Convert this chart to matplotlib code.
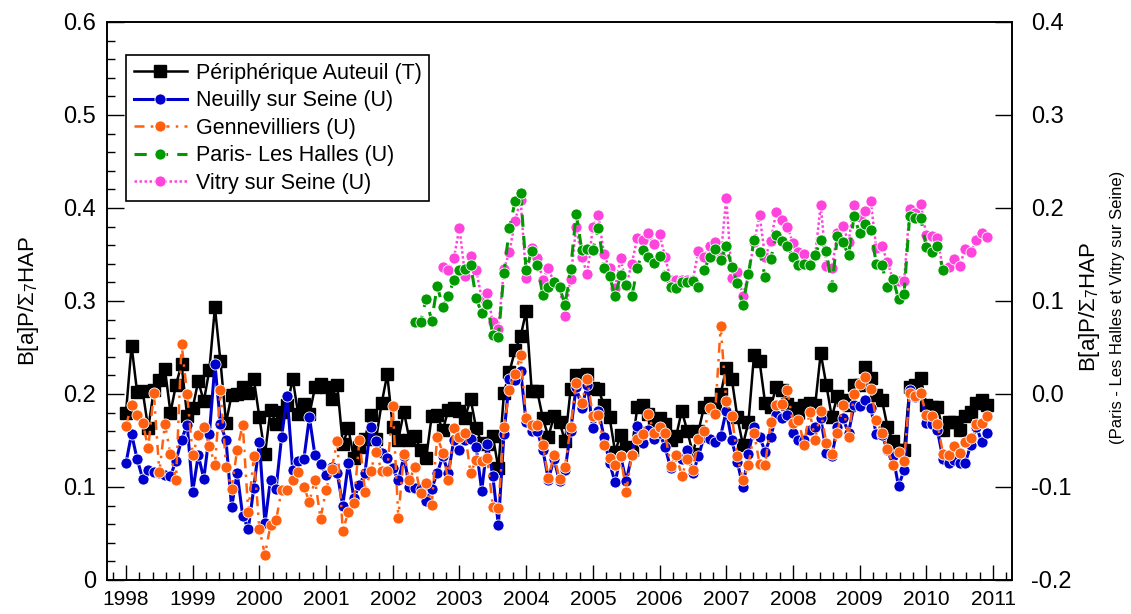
import numpy as np
import pandas as pd
import matplotlib
matplotlib.use("Agg")
import matplotlib.pyplot as plt
from matplotlib.ticker import MultipleLocator

plt.rcParams['font.family'] = ['Liberation Sans', 'DejaVu Sans']
plt.rcParams['mathtext.fontset'] = 'custom'
plt.rcParams['mathtext.rm'] = 'Liberation Sans'
plt.rcParams['mathtext.it'] = 'Liberation Sans:italic'

# monthly series, Jan 1998 -> Dec 2010
months = pd.date_range('1998-01-01', '2010-12-01', freq='MS')
# Paris-Les Halles from May 2002 to Apr 2010, Vitry from Oct 2002 to Dec 2010
months_halles = pd.date_range('2002-05-01', '2010-04-01', freq='MS')
months_vitry = pd.date_range('2002-10-01', '2010-12-01', freq='MS')

peripherique = [
    0.180, 0.252, 0.202, 0.203, 0.163, 0.204, 0.215, 0.227, 0.180, 0.210, 0.232, 0.176,
    0.185, 0.214, 0.192, 0.226, 0.293, 0.235, 0.169, 0.199, 0.200, 0.207, 0.201, 0.216,
    0.175, 0.135, 0.183, 0.168, 0.181, 0.188, 0.216, 0.178, 0.189, 0.178, 0.207, 0.211,
    0.208, 0.195, 0.210, 0.146, 0.163, 0.131, 0.143, 0.152, 0.177, 0.152, 0.190, 0.221,
    0.165, 0.151, 0.181, 0.151, 0.155, 0.140, 0.131, 0.176, 0.177, 0.161, 0.183, 0.185,
    0.182, 0.174, 0.195, 0.163, 0.147, 0.146, 0.155, 0.120, 0.201, 0.224, 0.247, 0.262,
    0.289, 0.203, 0.203, 0.174, 0.154, 0.176, 0.170, 0.149, 0.205, 0.220, 0.219, 0.222,
    0.206, 0.205, 0.188, 0.175, 0.138, 0.156, 0.143, 0.140, 0.186, 0.188, 0.178, 0.168,
    0.174, 0.168, 0.151, 0.155, 0.182, 0.160, 0.136, 0.160, 0.186, 0.190, 0.186, 0.200,
    0.228, 0.216, 0.175, 0.145, 0.170, 0.242, 0.235, 0.190, 0.186, 0.208, 0.204, 0.189,
    0.185, 0.180, 0.188, 0.190, 0.188, 0.244, 0.210, 0.175, 0.198, 0.194, 0.188, 0.210,
    0.210, 0.229, 0.217, 0.199, 0.194, 0.165, 0.149, 0.140, 0.140, 0.208, 0.210, 0.217,
    0.188, 0.186, 0.186, 0.161, 0.170, 0.170, 0.161, 0.176, 0.181, 0.190, 0.194, 0.188,
]

neuilly = [
    0.126, 0.157, 0.130, 0.109, 0.118, 0.116, 0.115, 0.113, 0.112, 0.128, 0.151, 0.167,
    0.095, 0.134, 0.109, 0.157, 0.232, 0.168, 0.150, 0.078, 0.115, 0.069, 0.055, 0.099,
    0.148, 0.061, 0.108, 0.098, 0.154, 0.198, 0.118, 0.128, 0.130, 0.175, 0.134, 0.125,
    0.113, 0.122, 0.115, 0.080, 0.126, 0.088, 0.102, 0.115, 0.165, 0.149, 0.137, 0.131,
    0.120, 0.107, 0.133, 0.100, 0.099, 0.098, 0.085, 0.098, 0.115, 0.133, 0.115, 0.151,
    0.140, 0.151, 0.152, 0.143, 0.096, 0.146, 0.112, 0.059, 0.157, 0.216, 0.215, 0.225,
    0.170, 0.160, 0.160, 0.140, 0.108, 0.130, 0.106, 0.118, 0.160, 0.208, 0.185, 0.210,
    0.163, 0.182, 0.154, 0.126, 0.105, 0.133, 0.106, 0.134, 0.166, 0.147, 0.161, 0.152,
    0.158, 0.143, 0.120, 0.133, 0.130, 0.140, 0.115, 0.133, 0.154, 0.152, 0.148, 0.155,
    0.182, 0.150, 0.127, 0.100, 0.136, 0.165, 0.154, 0.138, 0.154, 0.177, 0.174, 0.177,
    0.158, 0.151, 0.150, 0.161, 0.165, 0.174, 0.137, 0.133, 0.165, 0.174, 0.158, 0.188,
    0.187, 0.194, 0.185, 0.157, 0.156, 0.140, 0.133, 0.101, 0.118, 0.204, 0.197, 0.201,
    0.169, 0.168, 0.161, 0.130, 0.126, 0.129, 0.126, 0.126, 0.145, 0.165, 0.148, 0.158,
]

gennevilliers = [
    0.166, 0.188, 0.177, 0.169, 0.142, 0.201, 0.116, 0.168, 0.135, 0.107, 0.254, 0.200,
    0.134, 0.156, 0.164, 0.144, 0.124, 0.204, 0.122, 0.098, 0.140, 0.167, 0.073, 0.133,
    0.055, 0.027, 0.059, 0.064, 0.097, 0.097, 0.108, 0.116, 0.100, 0.084, 0.108, 0.066,
    0.097, 0.119, 0.149, 0.053, 0.073, 0.083, 0.151, 0.095, 0.117, 0.138, 0.117, 0.117,
    0.187, 0.067, 0.136, 0.107, 0.122, 0.093, 0.104, 0.081, 0.154, 0.137, 0.107, 0.163,
    0.154, 0.158, 0.115, 0.129, 0.128, 0.131, 0.079, 0.077, 0.165, 0.204, 0.222, 0.242,
    0.174, 0.167, 0.167, 0.145, 0.110, 0.134, 0.109, 0.121, 0.165, 0.212, 0.190, 0.216,
    0.176, 0.177, 0.145, 0.131, 0.124, 0.133, 0.095, 0.134, 0.152, 0.157, 0.179, 0.158,
    0.165, 0.158, 0.123, 0.134, 0.112, 0.130, 0.118, 0.152, 0.160, 0.185, 0.179, 0.273,
    0.192, 0.176, 0.133, 0.107, 0.124, 0.158, 0.125, 0.124, 0.170, 0.188, 0.189, 0.204,
    0.169, 0.172, 0.145, 0.181, 0.151, 0.182, 0.147, 0.135, 0.158, 0.188, 0.154, 0.200,
    0.211, 0.218, 0.205, 0.172, 0.158, 0.141, 0.124, 0.138, 0.128, 0.201, 0.198, 0.201,
    0.177, 0.176, 0.168, 0.136, 0.134, 0.144, 0.137, 0.148, 0.153, 0.168, 0.169, 0.176,
]

# right axis values
halles = [
    0.077, 0.077, 0.102, 0.079, 0.116, 0.094, 0.105, 0.123,
    0.133, 0.134, 0.139, 0.103, 0.087, 0.097, 0.063, 0.061, 0.130, 0.179, 0.207, 0.216,
    0.133, 0.154, 0.139, 0.106, 0.115, 0.120, 0.115, 0.096, 0.134, 0.194, 0.155, 0.156,
    0.155, 0.179, 0.135, 0.127, 0.105, 0.128, 0.117, 0.105, 0.135, 0.155, 0.147, 0.141,
    0.148, 0.127, 0.115, 0.114, 0.120, 0.120, 0.121, 0.115, 0.133, 0.147, 0.156, 0.144,
    0.159, 0.137, 0.119, 0.096, 0.129, 0.166, 0.153, 0.126, 0.145, 0.171, 0.164, 0.159,
    0.147, 0.139, 0.140, 0.139, 0.149, 0.166, 0.154, 0.115, 0.170, 0.163, 0.149, 0.191,
    0.173, 0.183, 0.176, 0.140, 0.139, 0.115, 0.124, 0.102, 0.108, 0.191, 0.189, 0.189,
    0.158, 0.153, 0.159, 0.133,
]

vitry = [
    0.137, 0.133, 0.146,
    0.179, 0.127, 0.148, 0.133, 0.103, 0.109, 0.077, 0.070, 0.134, 0.153, 0.186, 0.209,
    0.125, 0.157, 0.146, 0.123, 0.136, 0.119, 0.115, 0.084, 0.124, 0.180, 0.147, 0.129,
    0.180, 0.192, 0.150, 0.135, 0.114, 0.146, 0.117, 0.140, 0.168, 0.166, 0.173, 0.161,
    0.172, 0.147, 0.123, 0.123, 0.123, 0.123, 0.123, 0.154, 0.147, 0.159, 0.163, 0.147,
    0.211, 0.125, 0.131, 0.105, 0.129, 0.163, 0.192, 0.147, 0.164, 0.196, 0.187, 0.180,
    0.162, 0.153, 0.150, 0.140, 0.149, 0.203, 0.138, 0.135, 0.173, 0.181, 0.163, 0.203,
    0.190, 0.197, 0.207, 0.157, 0.159, 0.142, 0.123, 0.121, 0.121, 0.199, 0.195, 0.204,
    0.171, 0.170, 0.168, 0.134, 0.137, 0.145, 0.138, 0.156, 0.153, 0.166, 0.173, 0.169,
]

labels = ['Périphérique Auteuil (T)', 'Neuilly sur Seine (U)', 'Gennevilliers (U)',
          'Paris- Les Halles (U)', 'Vitry sur Seine (U)']
year_ticks = list(range(1998, 2012))
left_ticks = [0, 0.1, 0.2, 0.3, 0.4, 0.5, 0.6]
left_labels = ['0', '0.1', '0.2', '0.3', '0.4', '0.5', '0.6']
right_ticks = [-0.2, -0.1, 0.0, 0.1, 0.2, 0.3, 0.4]
right_labels = ['-0.2', '-0.1', '0.0', '0.1', '0.2', '0.3', '0.4']


def dec_year(idx):
    return idx.year + (idx.month - 1) / 12.0


x = dec_year(months)
x_h = dec_year(months_halles)
x_v = dec_year(months_vitry)

fig = plt.figure(figsize=(11.31, 6.14), dpi=100)
ax = fig.add_axes([0.0946, 0.0554, 0.8002, 0.9088])
ax2 = ax.twinx()

circ = dict(marker='o', markersize=8, markeredgecolor='white', markeredgewidth=0.6)

l1, = ax.plot(x, peripherique, color='black', lw=1.8, marker='s', markersize=8,
              markeredgecolor='black', label=labels[0])
l2, = ax.plot(x, neuilly, color='#0000CC', lw=2.2, markerfacecolor='#0000CC',
              label=labels[1], **circ)
l3, = ax.plot(x, gennevilliers, color='#FF6010', lw=1.8, ls=(0, (4, 2.5, 1, 2.5)),
              markerfacecolor='#FF6010', label=labels[2], **circ)
l5, = ax2.plot(x_v, vitry, color='#FF44DD', lw=1.8, ls=(0, (1, 1)),
               markerfacecolor='#FF44DD', label=labels[4], **circ)
l4, = ax2.plot(x_h, halles, color='#009900', lw=2.2, ls=(0, (4, 3)),
               markerfacecolor='#009900', label=labels[3], **circ)

ax.set_xlim(1997.715, 2011.285)

ax.set_xticks(year_ticks)
ax.set_xticklabels([str(y) for y in year_ticks])
ax.xaxis.set_minor_locator(MultipleLocator(0.2))
ax.set_yticks(left_ticks)
ax.set_yticklabels(left_labels)
ax.yaxis.set_minor_locator(MultipleLocator(0.02))
ax2.set_yticks(right_ticks)
ax2.set_yticklabels(right_labels)
ax.set_ylim(0, 0.6)
ax2.set_ylim(-0.2, 0.4)

ax.tick_params(axis='both', which='both', direction='in', labelsize=15)
ax.tick_params(axis='y', which='major', length=12, width=1, pad=8, labelsize=17)
ax.tick_params(axis='y', which='minor', length=6, width=1)
ax.tick_params(axis='x', which='major', length=11, width=1, pad=7)
ax.tick_params(axis='x', which='minor', length=6, width=1)
ax2.tick_params(axis='y', which='major', direction='in', length=12, width=1,
                labelsize=17, pad=14)

for a in (ax, ax2):
    for s in a.spines.values():
        s.set_linewidth(1.2)

fig.text(0.025, 0.51, 'B[a]P/$\\Sigma_7$HAP', rotation=90, ha='center', va='center',
         fontsize=16)
fig.text(0.963, 0.50, 'B[a]P/$\\Sigma_7$HAP', rotation=90, ha='center', va='center',
         fontsize=16)
fig.text(0.988, 0.50, '(Paris - Les Halles et Vitry sur Seine)', rotation=90,
         ha='center', va='center', fontsize=12)

leg = ax2.legend(handles=[l1, l2, l3, l4, l5], loc='upper left',
                 bbox_to_anchor=(0.021, 0.94), fontsize=15.5, frameon=True,
                 fancybox=False, edgecolor='black', framealpha=1,
                 handlelength=2.5, handletextpad=0.4, labelspacing=0.3,
                 borderpad=0.35, borderaxespad=0)
leg.get_frame().set_linewidth(1.2)

fig.savefig('out.png', dpi=100)
